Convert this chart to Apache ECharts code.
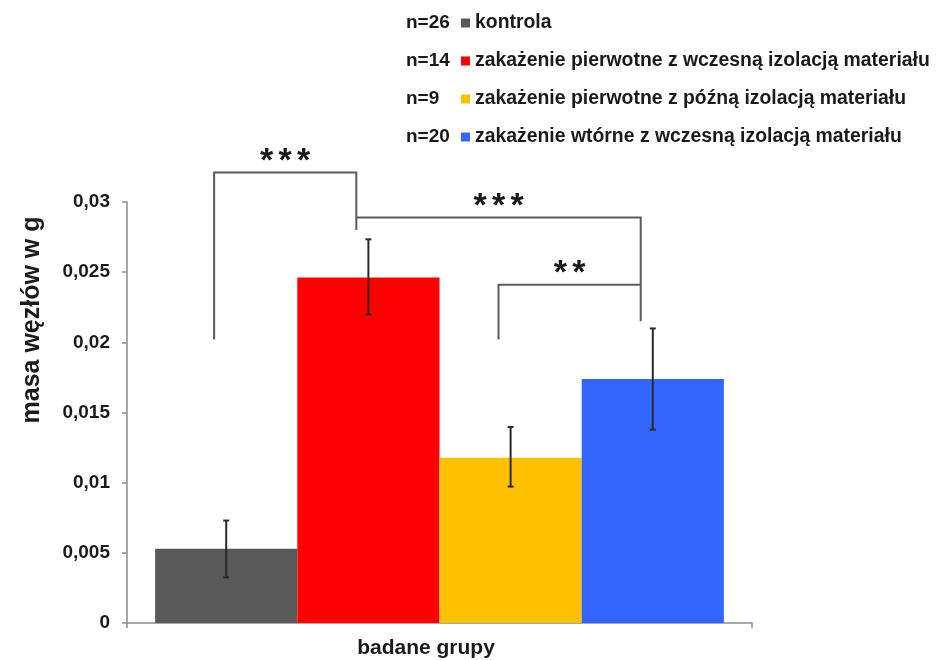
<!DOCTYPE html>
<html>
<head>
<meta charset="utf-8">
<script src="https://cdn.jsdelivr.net/npm/echarts@6/dist/echarts.min.js"></script>
<style>
  html, body { margin: 0; padding: 0; background: #fff; }
  #chart { width: 938px; height: 660px; }
</style>
</head>
<body>
<div id="chart"></div>
<script>
// Lymph node mass by study group (mean with error range)
const categories = ['badane grupy'];
const groupNames = [
  'kontrola',
  'zakażenie pierwotne z wczesną izolacją materiału',
  'zakażenie pierwotne z późną izolacją materiału',
  'zakażenie wtórne z wczesną izolacją materiału'
];
const groupSizes = ['n=26', 'n=14', 'n=9', 'n=20'];
const groupColors = ['#595959', '#ff0000', '#ffc000', '#3366ff'];
const meanMass = [0.00529, 0.02462, 0.01178, 0.01738];
const errLow = [0.00325, 0.02199, 0.00972, 0.01378];
const errHigh = [0.0073, 0.02734, 0.01397, 0.02099];

// Significance comparisons between groups
const compFrom = [0, 1, 2];
const compTo = [1, 3, 3];
const compStars = ['***', '***', '**'];
const compTop = [0.0321, 0.0289, 0.0241];
const compFromEnd = [0.0202, 0.0289, 0.0202];
const compToEnd = [0.0280, 0.0215, 0.0241];

const FONT = "'Liberation Sans', Arial, sans-serif";
const TEXT_COLOR = '#1a1a1a';
const CATEGORY_GAP = 0.09;

function groupX(api, idx) {
  const c = api.coord([0, 0]);
  const band = api.size([1, 0])[0];
  const inner = band * (1 - CATEGORY_GAP);
  const w = inner / groupNames.length;
  return { x: c[0] - inner / 2 + w * (idx + 0.5), w: w };
}

const barSeries = groupNames.map((name, i) => ({
  name: name,
  type: 'bar',
  data: [meanMass[i]],
  barGap: '0%',
  barCategoryGap: (CATEGORY_GAP * 100) + '%',
  itemStyle: { color: groupColors[i] },
  emphasis: { disabled: true },
  z: 2
}));

const errorData = groupNames.map((_, i) => [0, i, errLow[i], errHigh[i]]);
const bracketData = compFrom.map((f, i) => [0, f, compTo[i], compTop[i], compFromEnd[i], compToEnd[i]]);

const errorSeries = {
  type: 'custom',
  name: 'error',
  dimensions: ['cat', 'group', 'low', 'high'],
  encode: { x: 'cat', y: ['low', 'high'] },
  data: errorData,
  z: 5,
  silent: true,
  renderItem: function (params, api) {
    const g = groupX(api, api.value(1));
    const lo = api.coord([0, api.value(2)])[1];
    const hi = api.coord([0, api.value(3)])[1];
    const cap = 3;
    const style = { stroke: '#2a2a2a', lineWidth: 2 };
    return {
      type: 'group',
      children: [
        { type: 'line', shape: { x1: g.x, y1: lo, x2: g.x, y2: hi }, style: style },
        { type: 'line', shape: { x1: g.x - cap, y1: lo, x2: g.x + cap, y2: lo }, style: style },
        { type: 'line', shape: { x1: g.x - cap, y1: hi, x2: g.x + cap, y2: hi }, style: style }
      ]
    };
  }
};

const bracketSeries = {
  type: 'custom',
  name: 'brackets',
  dimensions: ['cat', 'from', 'to', 'top', 'fromEnd', 'toEnd'],
  encode: { x: 'cat', y: 'top' },
  data: bracketData,
  clip: false,
  silent: true,
  z: 6,
  renderItem: function (params, api) {
    const a = groupX(api, api.value(1));
    const b = groupX(api, api.value(2));
    const shift = -0.085 * a.w;
    const x1 = a.x + shift;
    const x2 = b.x + shift;
    const yTop = api.coord([0, api.value(3)])[1];
    const yA = api.coord([0, api.value(4)])[1];
    const yB = api.coord([0, api.value(5)])[1];
    const style = { stroke: '#5a5a5a', lineWidth: 2, fill: null };
    const children = [
      { type: 'polyline', shape: { points: [[x1, yA], [x1, yTop], [x2, yTop], [x2, yB]] }, style: style }
    ];
    const stars = compStars[params.dataIndex];
    const n = stars.length;
    const step = 18.5;
    const mid = (x1 + x2) / 2;
    for (let k = 0; k < n; k++) {
      children.push({
        type: 'text',
        x: mid + (k - (n - 1) / 2) * step,
        y: yTop - 11,
        style: {
          text: '*',
          font: 'bold 34px ' + FONT,
          fill: TEXT_COLOR,
          align: 'center',
          verticalAlign: 'middle'
        }
      });
    }
    return { type: 'group', children: children };
  }
};

const chart = echarts.init(document.getElementById('chart'), null, { renderer: 'canvas' });

chart.setOption({
  animation: false,
  backgroundColor: '#ffffff',
  textStyle: { fontFamily: FONT },
  grid: { left: 127, right: 186, top: 202, bottom: 37, containLabel: false },
  legend: {
    data: groupNames,
    orient: 'vertical',
    left: 456,
    top: 8,
    icon: 'rect',
    itemWidth: 9,
    itemHeight: 9,
    itemGap: 18,
    selectedMode: false,
    textStyle: { fontSize: 19.4, fontWeight: 'bold', color: TEXT_COLOR, lineHeight: 20, fontFamily: FONT }
  },
  graphic: [
    {
      type: 'text',
      x: 32,
      y: 320,
      rotation: Math.PI / 2,
      style: {
        text: 'masa węzłów w g',
        font: 'bold 25px ' + FONT,
        fill: TEXT_COLOR,
        align: 'center',
        verticalAlign: 'middle'
      }
    }
  ].concat(groupSizes.map((s, i) => ({
    type: 'text',
    x: 406,
    y: 23 + 38 * i,
    style: {
      text: s,
      font: 'bold 19px ' + FONT,
      fill: TEXT_COLOR,
      align: 'left',
      verticalAlign: 'middle'
    }
  }))),
  xAxis: {
    type: 'category',
    data: categories,
    boundaryGap: true,
    axisLine: { lineStyle: { color: '#8c8c8c', width: 1.5 } },
    axisTick: { show: true, length: 5, lineStyle: { color: '#8c8c8c', width: 1.5 } },
    axisLabel: {
      fontSize: 21,
      fontWeight: 'bold',
      color: TEXT_COLOR,
      margin: 15,
      padding: [0, 27, 0, 0]
    }
  },
  yAxis: {
    type: 'value',
    min: 0,
    max: 0.03,
    interval: 0.005,
    splitLine: { show: false },
    axisLine: { show: true, lineStyle: { color: '#8c8c8c', width: 1.5 } },
    axisTick: { show: true, length: 5, lineStyle: { color: '#8c8c8c', width: 1.5 } },
    axisLabel: {
      fontSize: 19,
      fontWeight: 'bold',
      color: TEXT_COLOR,
      margin: 17,
      formatter: function (v) { return String(+v.toFixed(4)).replace('.', ','); }
    }
  },
  series: barSeries.concat([errorSeries, bracketSeries])
});
</script>
</body>
</html>
